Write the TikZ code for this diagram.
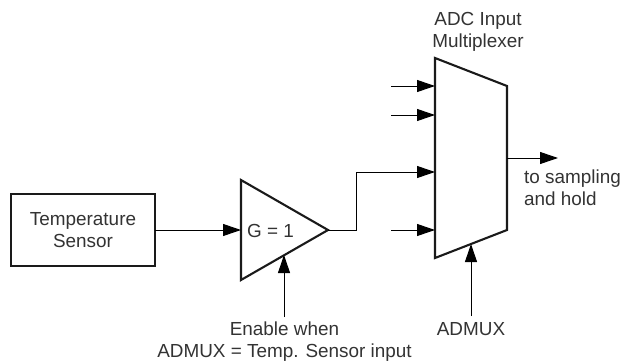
\documentclass[tikz,border=0pt]{standalone}
\usepackage{fontspec}
\setmainfont{Liberation Sans}
\usetikzlibrary{arrows.meta}
\definecolor{txt}{HTML}{333333}
\definecolor{ln}{HTML}{1A1A1A}
\tikzset{
  shapeline/.style={draw=ln,line width=2.1pt,line join=miter},
  wire/.style={draw=black,line width=1pt},
  arrowwire/.style={wire,-{Triangle[length=18pt,width=12pt]}},
  lbl/.style={text=txt,font=\fontsize{18.9}{22}\selectfont,align=center,inner sep=0pt},
  lblleft/.style={lbl,align=left,anchor=west}
}
\begin{document}
\begin{tikzpicture}[x=1pt,y=-1pt]
\useasboundingbox (0,0) rectangle (621,361);
% sensor box
\node[shapeline,fill=white,minimum width=144pt,minimum height=72pt,inner sep=0pt,outer sep=0pt,text=txt,align=center,font=\fontsize{18.9}{22}\selectfont] (sensor) at (83,230.3) {Temperature\\Sensor};
% amplifier
\coordinate (ampA) at (241,180);
\coordinate (ampB) at (241,280);
\coordinate (ampTip) at (328,230);
\coordinate (ampIn) at (241,230);
\coordinate (ampEn) at (284,255);
\draw[shapeline] (ampA) -- (ampTip) -- (ampB) -- cycle;
\node[lbl,anchor=west] (gain) at (247,231) {G = 1};
% mux
\coordinate (muxA) at (435,58);
\coordinate (muxB) at (507,86);
\coordinate (muxC) at (507,230);
\coordinate (muxD) at (435,258);
\draw[shapeline] (muxA) -- (muxB) -- (muxC) -- (muxD) -- cycle;
\coordinate (in1) at (435,86);
\coordinate (in2) at (435,115);
\coordinate (in3) at (435,172);
\coordinate (in4) at (435,230);
\coordinate (src1) at (391,86);
\coordinate (src2) at (391,115);
\coordinate (src4) at (391,230);
\coordinate (muxSel) at (471,244);
\coordinate (muxOut) at (507,158);
\coordinate (outEnd) at (558,158);
\coordinate (bend1) at (356,230);
\coordinate (bend2) at (356,172);
\coordinate (sensorOut) at (155,230);
% labels
\node[lbl] (muxTitle) at (478,32) {ADC Input\\Multiplexer};
\node[lblleft] (outLabel) at (524,188) {to sampling\\and hold};
\node[lbl,anchor=north] (enable) at (284.5,321.5) {Enable when\\ADMUX = Temp. Sensor input};
\node[lbl,anchor=north] (admux) at (471,322.5) {ADMUX};
\coordinate (enableTop) at (284,317);
\coordinate (admuxTop) at (471,316);
% connectors
\draw[arrowwire] (sensorOut) -- (ampIn);
\draw[arrowwire] (enableTop) -- (ampEn);
\draw[arrowwire] (ampTip) -- (bend1) -- (bend2) -- (in3);
\draw[arrowwire] (src1) -- (in1);
\draw[arrowwire] (src2) -- (in2);
\draw[arrowwire] (src4) -- (in4);
\draw[arrowwire] (admuxTop) -- (muxSel);
\draw[arrowwire] (muxOut) -- (outEnd);
\end{tikzpicture}
\end{document}
